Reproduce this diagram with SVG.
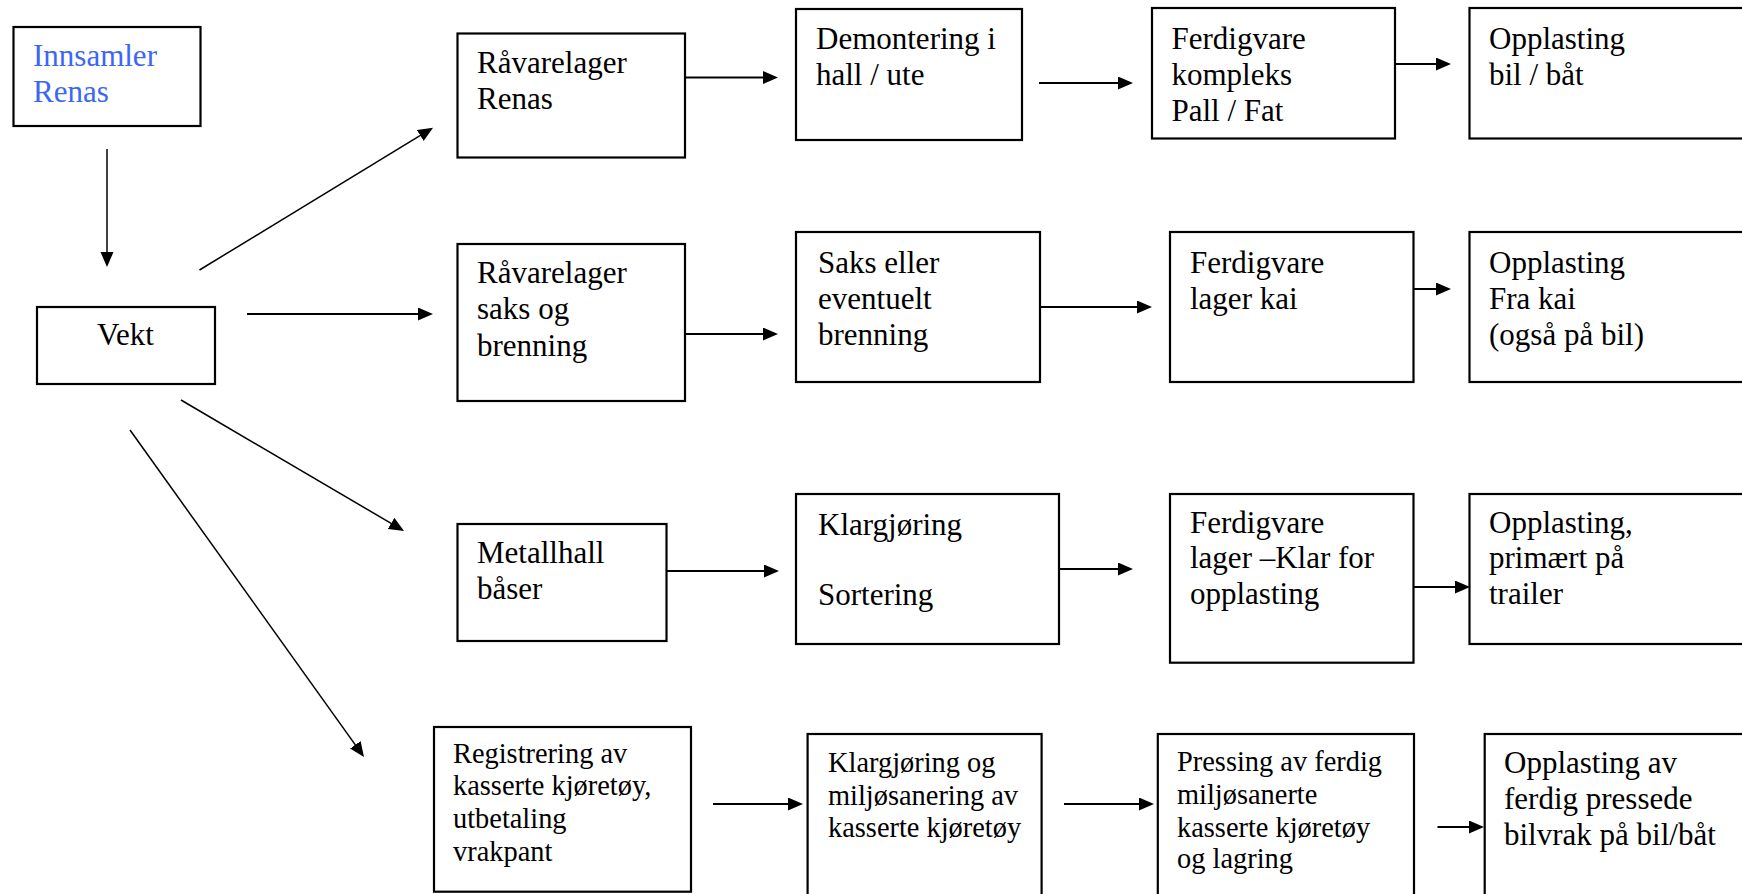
<svg xmlns="http://www.w3.org/2000/svg" width="1742" height="894" viewBox="0 0 1742 894">
<style>
.box{fill:#fff;stroke:#000;stroke-width:2.2}
text{font-family:'Liberation Serif','Times New Roman',Times,serif;font-size:31px;fill:#000}
text.s{font-size:28.4px}
text.blue{fill:#3b67f5}
.c{fill:none;stroke:#000;stroke-width:2}
.d{fill:none;stroke:#000;stroke-width:1.5}
</style>
<defs>
<marker id="ah" markerUnits="userSpaceOnUse" markerWidth="17" markerHeight="14" refX="5" refY="6.5" orient="auto">
<path d="M0,0 L15,6.5 L0,13 Z" fill="#000"/>
</marker>
</defs>
<rect width="1742" height="894" fill="#fff"/>

<g id="innsamler"><rect class="box" x="13.5" y="27" width="187" height="99"/>
<text class="blue" x="33" y="65.5">Innsamler</text><text class="blue" x="33" y="101.5">Renas</text></g>

<g id="vekt"><rect class="box" x="37" y="307" width="178" height="77"/>
<text x="97" y="345">Vekt</text></g>

<g id="r1a"><rect class="box" x="457.5" y="33.5" width="227.5" height="124"/>
<text x="477" y="73.3">Råvarelager</text><text x="477" y="109.3">Renas</text></g>

<g id="r1b"><rect class="box" x="796" y="9" width="226" height="131"/>
<text x="816" y="48.7">Demontering i</text><text x="816" y="85">hall / ute</text></g>

<g id="r1c"><rect class="box" x="1152" y="8" width="243" height="130.5"/>
<text x="1171.5" y="48.7">Ferdigvare</text><text x="1171.5" y="84.5">kompleks</text><text x="1171.5" y="120.5">Pall / Fat</text></g>

<g id="r1d"><rect class="box" x="1469.5" y="8" width="300" height="130.5"/>
<text x="1489" y="48.7">Opplasting</text><text x="1489" y="84.5">bil / båt</text></g>

<g id="r2a"><rect class="box" x="457.5" y="244" width="227.5" height="157"/>
<text x="477" y="283.3">Råvarelager</text><text x="477" y="319.3">saks og</text><text x="477" y="356">brenning</text></g>

<g id="r2b"><rect class="box" x="796" y="232" width="244" height="150"/>
<text x="818" y="272.7">Saks eller</text><text x="818" y="308.7">eventuelt</text><text x="818" y="345">brenning</text></g>

<g id="r2c"><rect class="box" x="1170" y="232" width="243.5" height="150"/>
<text x="1190" y="272.7">Ferdigvare</text><text x="1190" y="308.7">lager kai</text></g>

<g id="r2d"><rect class="box" x="1469.5" y="232" width="300" height="150"/>
<text x="1489" y="272.7">Opplasting</text><text x="1489" y="308.7">Fra kai</text><text x="1489" y="345">(også på bil)</text></g>

<g id="r3a"><rect class="box" x="457.5" y="524" width="209" height="117"/>
<text x="477" y="562.7">Metallhall</text><text x="477" y="599">båser</text></g>

<g id="r3b"><rect class="box" x="796" y="494" width="263" height="150"/>
<text x="818" y="534.5">Klargjøring</text><text x="818" y="605">Sortering</text></g>

<g id="r3c"><rect class="box" x="1170" y="494" width="243.5" height="168.7"/>
<text x="1190" y="533.3">Ferdigvare</text><text x="1190" y="568.3">lager –Klar for</text><text x="1190" y="604">opplasting</text></g>

<g id="r3d"><rect class="box" x="1469.5" y="494" width="300" height="150"/>
<text x="1489" y="533.3">Opplasting,</text><text x="1489" y="568.3">primært på</text><text x="1489" y="604">trailer</text></g>

<g id="r4a"><rect class="box" x="434" y="727" width="257" height="164.7"/>
<text class="s" x="453" y="762.5">Registrering av</text><text class="s" x="453" y="795">kasserte kjøretøy,</text><text class="s" x="453" y="828">utbetaling</text><text class="s" x="453" y="861">vrakpant</text></g>

<g id="r4b"><rect class="box" x="807.6" y="734" width="234" height="200"/>
<text class="s" x="828" y="771.5">Klargjøring og</text><text class="s" x="828" y="804.5">miljøsanering av</text><text class="s" x="828" y="837">kasserte kjøretøy</text></g>

<g id="r4c"><rect class="box" x="1157.8" y="734" width="256.2" height="200"/>
<text class="s" x="1177" y="770.7">Pressing av ferdig</text><text class="s" x="1177" y="803.5">miljøsanerte</text><text class="s" x="1177" y="836.7">kasserte kjøretøy</text><text class="s" x="1177" y="868.3">og lagring</text></g>

<g id="r4d"><rect class="box" x="1484.7" y="734" width="300" height="200"/>
<text x="1504" y="772.5">Opplasting av</text><text x="1504" y="809">ferdig pressede</text><text x="1504" y="845">bilvrak på bil/båt</text></g>

<g id="connectors">
<path class="d" d="M107,149 L107,257" marker-end="url(#ah)"/>
<path class="d" d="M199.5,270 L424.5,132.9" marker-end="url(#ah)"/>
<path class="c" d="M247,314 L423,314" marker-end="url(#ah)"/>
<path class="d" d="M181,400 L395.4,525.9" marker-end="url(#ah)"/>
<path class="d" d="M130,430 L358.2,748.9" marker-end="url(#ah)"/>
<path class="c" d="M685,77.5 L768,77.5" marker-end="url(#ah)"/>
<path class="c" d="M1039,83 L1123,83" marker-end="url(#ah)"/>
<path class="c" d="M1395,64 L1441,64" marker-end="url(#ah)"/>
<path class="c" d="M685,334 L768,334" marker-end="url(#ah)"/>
<path class="c" d="M1040,307 L1142,307" marker-end="url(#ah)"/>
<path class="c" d="M1413.5,289 L1441,289" marker-end="url(#ah)"/>
<path class="c" d="M666.5,571 L769,571" marker-end="url(#ah)"/>
<path class="c" d="M1059,569 L1123,569" marker-end="url(#ah)"/>
<path class="c" d="M1413.5,587 L1460,587" marker-end="url(#ah)"/>
<path class="c" d="M713,804 L793,804" marker-end="url(#ah)"/>
<path class="c" d="M1064,804 L1144,804" marker-end="url(#ah)"/>
<path class="c" d="M1437.5,827 L1474,827" marker-end="url(#ah)"/>
</g>
</svg>
